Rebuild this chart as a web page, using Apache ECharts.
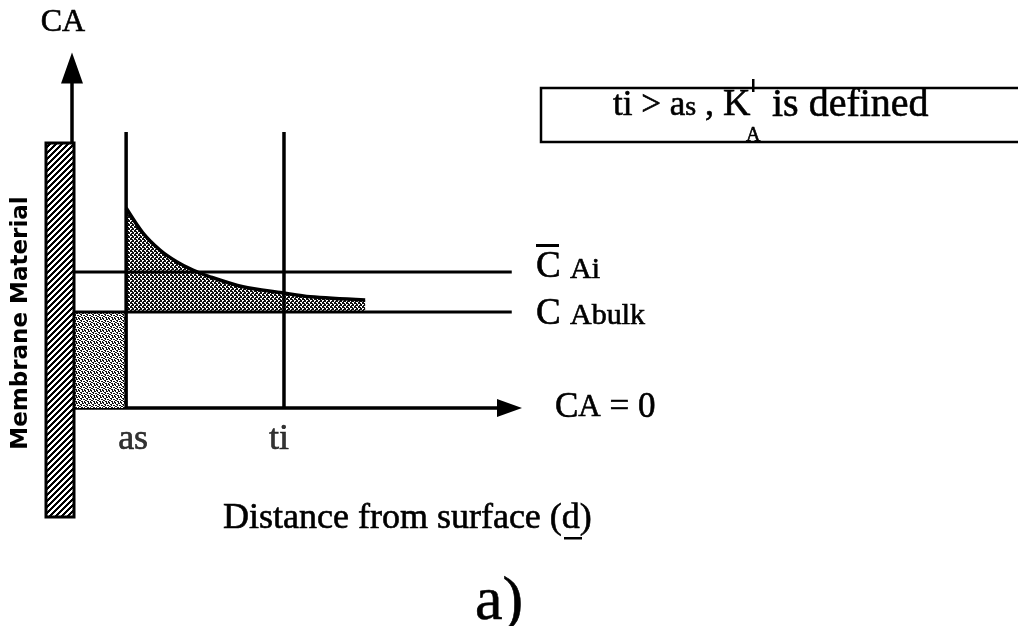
<!DOCTYPE html>
<html>
<head>
<meta charset="utf-8">
<script src="https://cdn.jsdelivr.net/npm/echarts@6/dist/echarts.min.js"></script>
<style>
  html, body { margin: 0; padding: 0; background: #fff; }
  #chart { width: 1018px; height: 626px; }
</style>
</head>
<body>
<div id="chart"></div>
<script>
// Concentration profile near a membrane surface (schematic units)
const xMax = 9.7;
const yMax = 8.5;

// Distance markers on the horizontal axis
const tickLabels = ['as', 'ti'];
const tickPositions = [1.2, 4.7];
const markerTop = 6.9;

// Reference concentration levels: mean interfacial and bulk
const levelNames = ['CAi', 'CAbulk'];
const levelValues = [3.4, 2.4];
const levelEnd = 9.75;

// Concentration profile beyond the adsorbed layer
const profileDistance = [1.2, 1.57, 1.95, 2.33, 2.68, 3.06, 3.79, 4.66, 5.28, 6.5];
const profileConc     = [5.0, 4.38, 3.95, 3.65, 3.45, 3.28, 3.03, 2.88, 2.78, 2.7];

const SERIF = '"Liberation Serif", "Times New Roman", serif';
const INK = '#000';

// Small bitmap tiles used as repeating fills
function tile(rows, ink) {
  const h = rows.length, w = rows[0].length;
  const c = document.createElement('canvas');
  c.width = w; c.height = h;
  const ctx = c.getContext('2d');
  ctx.fillStyle = '#fff';
  ctx.fillRect(0, 0, w, h);
  ctx.fillStyle = ink;
  for (let y = 0; y < h; y++) {
    for (let x = 0; x < w; x++) {
      if (rows[y][x] === 'X') ctx.fillRect(x, y, 1, 1);
    }
  }
  return c;
}

const hatchTile = tile([
  'XXX...',
  'XX...X',
  'X...XX',
  '...XXX',
  '..XXX.',
  '.XXX..'
], '#000');

const denseDots = tile([
  'XX..',
  'XX.X',
  '..XX',
  'X.XX'
], '#111');

const looseDots = tile([
  'XX..X.',
  '.X..XX',
  '..XX..',
  'X..X.X',
  '.XX...',
  'X..XX.'
], '#111');

// Text helper: slight outline gives the printed, heavier look
function txt(x, y, text, size, extra) {
  return Object.assign({
    type: 'text', x: x, y: y, z: 100,
    style: Object.assign({
      text: text,
      font: size + 'px ' + SERIF,
      fill: INK, stroke: INK, lineWidth: 0.6,
      align: 'left', verticalAlign: 'middle',
      textAlign: 'left', textVerticalAlign: 'middle'
    }, (extra && extra.style) || {})
  }, (extra && extra.el) || {});
}

const chart = echarts.init(document.getElementById('chart'), null, { renderer: 'canvas' });

const axisCommon = {
  type: 'value',
  axisTick: { show: false },
  axisLabel: { show: false },
  splitLine: { show: false }
};

const thinLine = { color: INK, width: 3 };
const thickLine = { color: INK, width: 3.5 };

const profileData = profileDistance.map((d, i) => [d, profileConc[i]]);
// horizontal nudge of each marker label relative to its line
const tickLabelNudge = [7, -5];

const option = {
  animation: false,
  backgroundColor: '#fff',
  grid: { left: 72, right: 508.5, top: 68, bottom: 218 },
  xAxis: Object.assign({}, axisCommon, {
    min: 0, max: xMax,
    axisLine: {
      show: true, onZero: false,
      symbol: ['none', 'triangle'], symbolSize: [18, 25],
      lineStyle: thickLine
    }
  }),
  yAxis: Object.assign({}, axisCommon, {
    min: 0, max: yMax,
    axisLine: {
      show: true, onZero: false,
      symbol: ['none', 'triangle'], symbolSize: [22, 31],
      lineStyle: thickLine
    }
  }),
  series: [
    // profile curve, shaded down to the bulk level
    {
      type: 'line', name: 'profile', data: profileData,
      smooth: 0.3, symbol: 'none', silent: true, clip: false, z: 2,
      lineStyle: thickLine,
      areaStyle: { origin: levelValues[1], color: { image: denseDots, repeat: 'repeat' }, opacity: 1 }
    },
    // mean interfacial level
    {
      type: 'line', name: levelNames[0],
      data: [[0, levelValues[0]], [levelEnd, levelValues[0]]],
      symbol: 'none', silent: true, clip: false, z: 4, lineStyle: thinLine
    },
    // bulk level, with the adsorbed layer shaded beneath it
    {
      type: 'line', name: levelNames[1],
      data: [[0, levelValues[1]], [levelEnd, levelValues[1]]],
      symbol: 'none', silent: true, clip: false, z: 4, lineStyle: thinLine,
      markArea: {
        silent: true,
        itemStyle: { color: { image: looseDots, repeat: 'repeat' }, opacity: 1 },
        data: [[{ coord: [0, 0] }, { coord: [tickPositions[0], levelValues[1]] }]]
      }
    },
    // vertical markers at as and ti
    ...tickPositions.map((p, i) => ({
      type: 'line', name: tickLabels[i],
      data: [[p, 0], [p, markerTop]],
      symbol: 'none', silent: true, clip: false, z: 4, lineStyle: thickLine
    })),
    // marker labels under the axis
    {
      type: 'scatter', silent: true, symbolSize: 0, z: 5,
      data: tickPositions.map((p, i) => ({
        value: [p, 0], name: tickLabels[i],
        label: { offset: [tickLabelNudge[i], 0] }
      })),
      label: {
        show: true, position: 'bottom', distance: 14,
        formatter: (p) => p.name,
        fontFamily: SERIF, fontSize: 36, color: INK,
        textBorderColor: INK, textBorderWidth: 0.6
      }
    }
  ],
  graphic: [
    // membrane wall
    {
      type: 'rect', z: 50,
      shape: { x: 46, y: 143, width: 28, height: 374 },
      style: { fill: { image: hatchTile, repeat: 'repeat' }, stroke: INK, lineWidth: 3 }
    },
    {
      type: 'text', x: 21, y: 323, rotation: Math.PI / 2, z: 100,
      style: {
        text: 'Membrane Material', font: 'bold 23px "DejaVu Sans", sans-serif', fill: INK,
        align: 'center', verticalAlign: 'middle', textAlign: 'center', textVerticalAlign: 'middle'
      }
    },
    // axis title
    txt(63, 23, 'CA', 32, { style: { align: 'center', textAlign: 'center' } }),
    // condition box
    {
      type: 'rect', z: 40,
      shape: { x: 541, y: 88, width: 520, height: 54 },
      style: { fill: '#fff', stroke: INK, lineWidth: 2.5 }
    },
    txt(613, 106, '{n|ti > a}{s|s}', 35, {
      style: { rich: { n: { font: '35px ' + SERIF }, s: { font: '28px ' + SERIF, padding: [4, 0, 0, 0] } } }
    }),
    txt(705, 106, ',', 36),
    txt(723, 105, 'K', 38),
    txt(746, 136, 'A', 20),
    { type: 'rect', z: 101, shape: { x: 752, y: 79, width: 2.5, height: 13 }, style: { fill: INK } },
    txt(772, 105, 'is defined', 40),
    // level labels
    txt(536, 267, 'C', 37),
    { type: 'rect', z: 101, shape: { x: 536, y: 244, width: 23, height: 3 }, style: { fill: INK } },
    txt(570, 270, 'Ai', 30),
    txt(536, 314, 'C', 37),
    txt(570, 316, 'Abulk', 30),
    txt(555, 408, '{c|C}{a|A}{c| = 0}', 35, {
      style: { rich: { c: { font: '35px ' + SERIF }, a: { font: '31px ' + SERIF } } }
    }),
    // horizontal axis title
    txt(223, 519, 'Distance from surface (d)', 36),
    { type: 'rect', z: 101, shape: { x: 564, y: 537, width: 18, height: 2.5 }, style: { fill: INK } },
    // panel tag
    txt(499, 603, 'a)', 62, { style: { align: 'center', textAlign: 'center' } })
  ]
};

chart.setOption(option);
</script>
</body>
</html>
